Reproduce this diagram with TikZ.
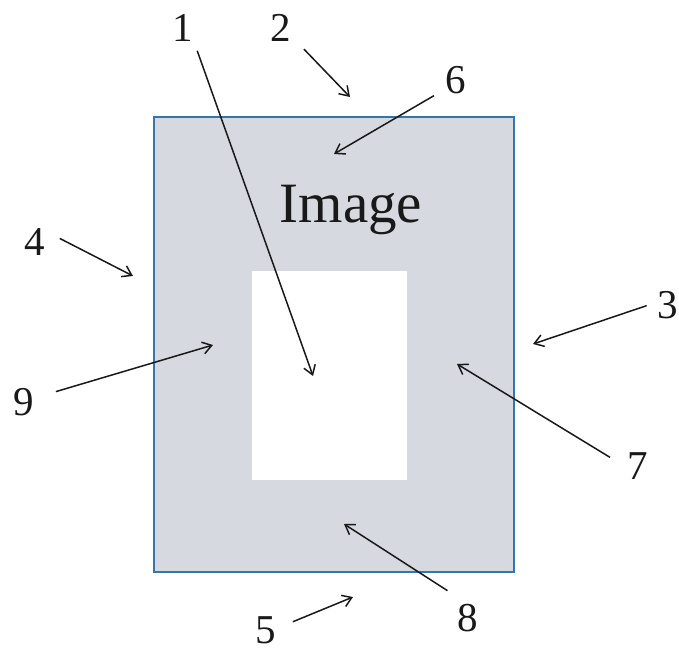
\documentclass[tikz,border=0pt]{standalone}
\usepackage{fontspec}
\setmainfont{Liberation Serif}
\usepackage{xcolor}
\usepackage{tikz}
\usetikzlibrary{arrows.meta, positioning}
\definecolor{myframe}{RGB}{52,118,172}
\definecolor{mygray}{RGB}{214,217,224}
\definecolor{mydark}{RGB}{25,25,25}
\tikzset{
  num/.style={font=\fontsize{41}{43}\selectfont, text=mydark, inner sep=9pt},
  pointer/.style={-{Straight Barb[length=9pt, width=12pt]}, line width=1.5pt, color=mydark}
}

\begin{document}
\begin{tikzpicture}[x=1pt, y=-1pt]
  \useasboundingbox (0,0) rectangle (679,653);

  % frame and window
  \draw[fill=mygray, draw=myframe, line width=2pt] (154,117) rectangle (514,572);
  \fill[white] (252,271) rectangle (407,480);
  \node[font=\fontsize{57}{59}\selectfont, text=mydark] (img) at (351,210) {Image};

  % labels
  \node[num] (l1) at (183,28) {1};
  \node[num] (l2) at (281,28) {2};
  \node[num] (l3) at (668,305) {3};
  \node[num] (l4) at (35,242) {4};
  \node[num] (l5) at (266,630) {5};
  \node[num] (l6) at (456,80) {6};
  \node[num] (l7) at (638,466) {7};
  \node[num] (l8) at (468,618) {8};
  \node[num] (l9) at (24,402) {9};

  % arrow tips
  \coordinate (t1) at (313,376);
  \coordinate (t2) at (350,97);
  \coordinate (t3) at (533,344);
  \coordinate (t4) at (133,276);
  \coordinate (t5) at (353,597);
  \coordinate (t6) at (334,154);
  \coordinate (t7) at (457,364);
  \coordinate (t8) at (344,524);
  \coordinate (t9) at (213,345);

  \draw[pointer] (l1.-58) -- (t1);
  \draw[pointer, shorten <=5pt] (l2.-42) -- (t2);
  \draw[pointer, shorten <=2pt] (l3.west) -- (t3);
  \draw[pointer, shorten <=6pt] (l4.18) -- (t4);
  \draw[pointer, shorten <=8pt] (l5.15) -- (t5);
  \draw[pointer, shorten <=3pt] (l6.216) -- (t6);
  \draw[pointer, shorten <=10pt] (l7.170) -- (t7);
  \draw[pointer, shorten <=8pt] (l8.121) -- (t8);
  \draw[pointer, shorten <=13pt] (l9.19) -- (t9);
\end{tikzpicture}
\end{document}
